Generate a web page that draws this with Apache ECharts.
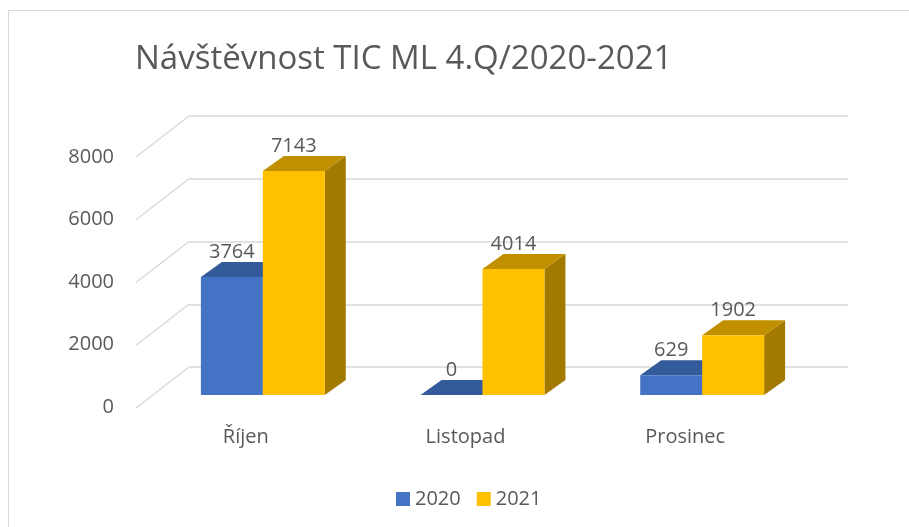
<!DOCTYPE html>
<html>
<head>
<meta charset="utf-8">
<script src="https://cdn.jsdelivr.net/npm/echarts@6/dist/echarts.min.js"></script>
<style>
  html, body { margin: 0; padding: 0; background: #fff; }
  #chart { width: 909px; height: 527px; }
  #frame { position: absolute; left: 8px; top: 10px; width: 1000px; height: 600px; border: 1px solid #d9d9d9; box-sizing: border-box; pointer-events: none; }
</style>
</head>
<body>
<div id="chart"></div>
<div id="frame"></div>
<script>
const categories = ['Říjen', 'Listopad', 'Prosinec'];
const years = ['2020', '2021'];
const values2020 = [3764, 0, 629];
const values2021 = [7143, 4014, 1902];
const yTicks = [0, 2000, 4000, 6000, 8000];

const font = '"Open Sans", "Noto Sans", sans-serif';
const textColor = '#595959';
const gridColor = '#d9d9d9';

// oblique projection of the 3d look
const wallDx = -53, wallDy = 41;   // back wall -> front edge of floor
const faceDx = -36, faceDy = 28;   // back wall -> front face of bars
const depthDx = 21, depthDy = -15; // bar depth

const colors = {
  '2020': { front: '#4472c4', top: '#335a9b', side: '#2b4c86' },
  '2021': { front: '#ffc000', top: '#c09000', side: '#a37a00' }
};

function barSeries(name, values, side) {
  const c = colors[name];
  return {
    name: name,
    type: 'custom',
    xAxisIndex: 0,
    yAxisIndex: 0,
    itemStyle: { color: c.front },
    data: values.map((v, i) => [i, v]),
    renderItem: function (params, api) {
      const cat = api.value(0), v = api.value(1);
      const base = api.coord([cat, 0]);
      const top = api.coord([cat, v]);
      const w = api.size([1, 0])[0] * 0.282;
      const cx = base[0] + faceDx;
      const x0 = side < 0 ? cx - w : cx;
      const x1 = x0 + w;
      const yb = base[1] + faceDy;
      const yt = top[1] + faceDy;
      const children = [];
      children.push({
        type: 'polygon',
        shape: { points: [[x1, yb], [x1 + depthDx, yb + depthDy], [x1 + depthDx, yt + depthDy], [x1, yt]] },
        style: { fill: c.side }
      });
      children.push({
        type: 'polygon',
        shape: { points: [[x0, yt], [x1, yt], [x1 + depthDx, yt + depthDy], [x0 + depthDx, yt + depthDy]] },
        style: { fill: c.top }
      });
      if (yb - yt > 0.5) {
        children.push({
          type: 'rect',
          shape: { x: x0, y: yt, width: w, height: yb - yt },
          style: { fill: c.front }
        });
      }
      children.push({
        type: 'text',
        x: (x0 + x1) / 2,
        y: yt + depthDy - 10,
        style: {
          text: String(v), fill: textColor, font: '20px ' + font,
          align: 'center', verticalAlign: 'middle'
        }
      });
      return { type: 'group', children: children };
    }
  };
}

const chart = echarts.init(document.getElementById('chart'));
chart.setOption({
  animation: false,
  title: {
    text: 'Návštěvnost TIC ML 4.Q/2020-2021',
    left: 130,
    top: 38,
    textStyle: { fontFamily: font, fontSize: 33, fontWeight: 'normal', color: textColor }
  },
  legend: {
    data: years,
    left: 391,
    top: 484,
    icon: 'rect',
    itemWidth: 14,
    itemHeight: 14,
    itemGap: 16,
    textStyle: { fontFamily: font, fontSize: 20, color: textColor }
  },
  grid: [
    { left: 189, right: 61, top: 116, bottom: 160 },
    { left: 136, right: 114, top: 157, bottom: 120 }
  ],
  xAxis: [
    { gridIndex: 0, type: 'category', data: categories, axisLine: { show: false }, axisTick: { show: false }, axisLabel: { show: false } },
    {
      gridIndex: 1, type: 'category', data: categories,
      axisLine: { show: false }, axisTick: { show: false },
      axisLabel: { margin: 20, fontFamily: font, fontSize: 20, color: textColor }
    }
  ],
  yAxis: [
    {
      gridIndex: 0, type: 'value', min: 0, max: 8000, interval: 2000,
      axisLabel: { show: false }, axisLine: { show: false }, axisTick: { show: false },
      splitLine: { lineStyle: { color: gridColor, width: 1.5 } }
    },
    {
      gridIndex: 1, type: 'value', min: 0, max: 8000, interval: 2000,
      axisLine: { show: false }, axisTick: { show: false }, splitLine: { show: false },
      axisLabel: { margin: 22, fontFamily: font, fontSize: 20, color: textColor, formatter: v => String(v) }
    }
  ],
  series: [
    {
      type: 'custom',
      name: 'wall',
      silent: true,
      xAxisIndex: 0,
      yAxisIndex: 0,
      data: yTicks.map(v => [0, v]),
      renderItem: function (params, api) {
        const p = api.coord([0, api.value(1)]);
        const x = params.coordSys.x;
        return {
          type: 'line',
          shape: { x1: x, y1: p[1], x2: x + wallDx, y2: p[1] + wallDy },
          style: { stroke: gridColor, lineWidth: 1.5 }
        };
      }
    },
    barSeries('2020', values2020, -1),
    barSeries('2021', values2021, 1)
  ]
});
</script>
</body>
</html>
